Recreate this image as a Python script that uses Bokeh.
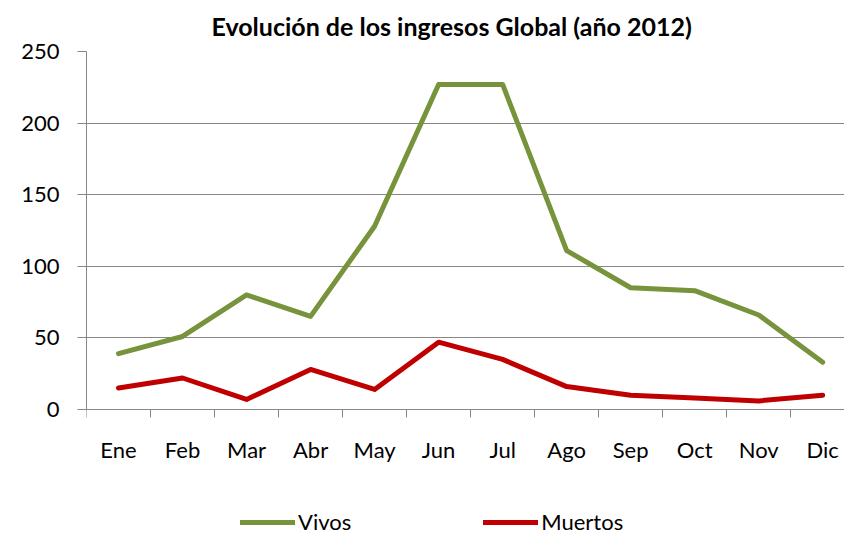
from bokeh.plotting import figure
from bokeh.models import Range1d, FixedTicker, Legend, LegendItem
from bokeh.embed import file_html
from bokeh.resources import INLINE

months = ["Ene", "Feb", "Mar", "Abr", "May", "Jun", "Jul", "Ago", "Sep", "Oct", "Nov", "Dic"]
vivos = [39, 51, 80, 65, 128, 227, 227, 111, 85, 83, 66, 33]
muertos = [15, 22, 7, 28, 14, 47, 35, 16, 10, 8, 6, 10]
y_ticks = [0, 50, 100, 150, 200, 250]
title_text = "Evolución de los ingresos Global (año 2012)"

FONT = "Lato"
GRID = "#868686"

# layout geometry (pixels)
PLOT_H = 358          # height of the 0..250 value area
BELOW_H = 126         # space below the value area (axis labels + legend)
Y_MAX = y_ticks[-1]
Y_MIN = -Y_MAX * BELOW_H / PLOT_H   # frame extends below 0 to host labels and legend

centers = [i + 0.5 for i in range(len(months))]
bounds = list(range(len(months) + 1))

p = figure(width=844, height=535, frame_width=758, frame_height=PLOT_H + BELOW_H,
           output_backend="svg", toolbar_location=None,
           x_range=Range1d(0, 11.84), y_range=Range1d(Y_MIN, Y_MAX),
           min_border_left=86, min_border_right=0, min_border_top=51, min_border_bottom=0)
p.outline_line_color = None
p.background_fill_color = "white"
p.border_fill_color = "white"

# title
p.title.text = title_text
p.title.text_font = FONT
p.title.text_font_size = "25px"
p.title.text_font_style = "bold"
p.title.text_color = "#000000"
p.title.align = "left"
p.title.offset = 125
p.title.vertical_align = "top"
p.title.standoff = 18

# grid
p.xgrid.visible = False
p.ygrid.ticker = FixedTicker(ticks=y_ticks)
p.ygrid.grid_line_color = GRID
p.ygrid.grid_line_width = 1

# y axis
p.yaxis.ticker = FixedTicker(ticks=y_ticks)
p.yaxis.bounds = (0, Y_MAX)
p.yaxis.axis_line_color = GRID
p.yaxis.major_tick_line_color = GRID
p.yaxis.major_tick_out = 9
p.yaxis.major_tick_in = 0
p.yaxis.minor_tick_line_color = None
p.yaxis.major_label_standoff = 18
p.yaxis.major_label_text_font = FONT
p.yaxis.major_label_text_font_size = "22px"
p.yaxis.major_label_text_color = "#000000"

# x axis at y = 0: labels at category centres, tick marks at band boundaries
p.xaxis.fixed_location = 0
p.xaxis.ticker = FixedTicker(ticks=centers, minor_ticks=bounds)
p.xaxis.major_label_overrides = {c: m for c, m in zip(centers, months)}
p.xaxis.axis_line_color = GRID
p.xaxis.major_tick_line_color = None
p.xaxis.major_tick_out = 0
p.xaxis.major_tick_in = 0
p.xaxis.minor_tick_line_color = GRID
p.xaxis.minor_tick_out = 8
p.xaxis.minor_tick_in = 0
p.xaxis.major_label_standoff = 18
p.xaxis.major_label_text_font = FONT
p.xaxis.major_label_text_font_size = "22px"
p.xaxis.major_label_text_color = "#000000"

r1 = p.line(centers, vivos, line_color="#77933C", line_width=5, line_join="round", line_cap="round")
r2 = p.line(centers, muertos, line_color="#C00000", line_width=5, line_join="round", line_cap="round")

legend = Legend(items=[LegendItem(label="Vivos", renderers=[r1]),
                       LegendItem(label="Muertos", renderers=[r2])],
                location=(154, 0), orientation="horizontal",
                padding=0, margin=0, spacing=132,
                glyph_width=55, glyph_height=20, label_standoff=3,
                label_text_font=FONT, label_text_font_size="22px", label_text_color="#000000",
                border_line_alpha=0, background_fill_alpha=0)
p.add_layout(legend, "center")

open("out.html", "w").write(file_html(p, INLINE))
